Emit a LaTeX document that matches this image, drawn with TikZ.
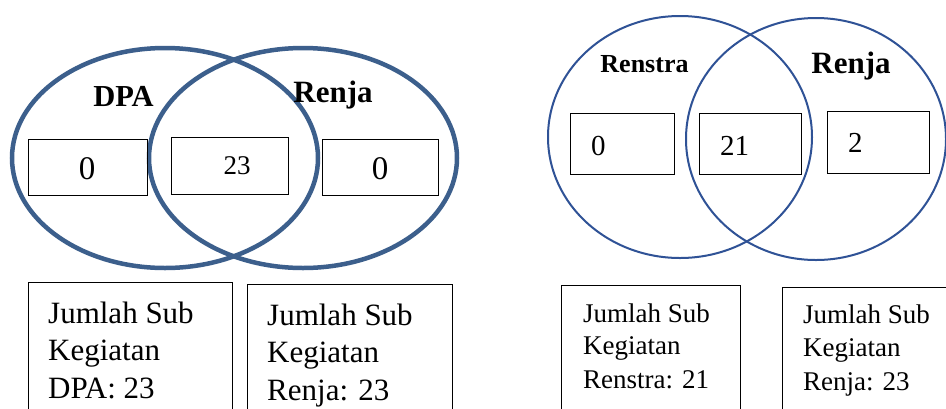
\documentclass[tikz,border=0pt]{standalone}
\usepackage{fontspec}
\setmainfont{Liberation Serif}
\definecolor{vennA}{RGB}{60,95,140}
\definecolor{vennB}{RGB}{47,82,150}
\begin{document}
\begin{tikzpicture}[x=1pt,y=-1pt,
  numbox/.style={draw=black,line width=1pt,fill=none},
  bigset/.style={draw=vennA,line width=4.5pt},
  thinset/.style={draw=vennB,line width=2pt},
  txt/.style={inner sep=0pt,anchor=base west},
  ctxt/.style={inner sep=0pt,anchor=base}]
\clip (0,0) rectangle (946,408);
\fill[white] (0,0) rectangle (946,408);
% left Venn
\draw[bigset] (165,158) ellipse [x radius=153,y radius=110];
\draw[bigset] (303,158) ellipse [x radius=154,y radius=110];
\draw[numbox] (28,139) rectangle (147,195);
\draw[numbox] (171,137) rectangle (288,194);
\draw[numbox] (322,139) rectangle (438,195);
\node[ctxt,font=\fontsize{33}{36}\selectfont] (l0) at (87,179) {0};
\node[ctxt,font=\fontsize{27}{30}\selectfont] (l23) at (237,174) {23};
\node[ctxt,font=\fontsize{33}{36}\selectfont] (r0) at (380,179) {0};
\node[ctxt,font=\fontsize{30.5}{34}\selectfont\bfseries] (dpa) at (123.5,106) {DPA};
\node[ctxt,font=\fontsize{31}{34}\selectfont\bfseries] (renjaL) at (333,102) {Renja};
% right Venn
\draw[thinset] (680,137) ellipse [x radius=132,y radius=121];
\draw[thinset] (816,139) ellipse [x radius=130,y radius=121];
\draw[numbox] (570,113) rectangle (674,174);
\draw[numbox] (699,113) rectangle (801,174);
\draw[numbox] (827,111) rectangle (929,173);
\node[txt,font=\fontsize{29}{32}\selectfont] (n0) at (591,155) {0};
\node[txt,font=\fontsize{29}{32}\selectfont] (n21) at (720,155) {21};
\node[txt,font=\fontsize{29}{32}\selectfont] (n2) at (848,152) {2};
\node[ctxt,font=\fontsize{26}{29}\selectfont\bfseries] (renstra) at (644.5,72) {Renstra};
\node[ctxt,font=\fontsize{31}{34}\selectfont\bfseries] (renjaR) at (851,73) {Renja};
% bottom boxes
\draw[numbox] (28,282) rectangle (232,420);
\draw[numbox] (247,284) rectangle (452,420);
\draw[numbox] (561,285) rectangle (740,420);
\draw[numbox] (782,287) rectangle (960,420);
\begin{scope}[font=\fontsize{31}{37}\selectfont]
\node[txt] (a1) at (48,323) {Jumlah Sub};
\node[txt] (a2) at (48,360) {Kegiatan};
\node[txt] (a3) at (48,398) {DPA: 23};
\node[txt] (b1) at (267,325) {Jumlah Sub};
\node[txt] (b2) at (267,362) {Kegiatan};
\node[txt] (b3) at (267,400) {Renja: 23};
\end{scope}
\begin{scope}[font=\fontsize{27}{33}\selectfont]
\node[txt] (c1) at (583,322) {Jumlah Sub};
\node[txt] (c2) at (583,354) {Kegiatan};
\node[txt] (c3) at (583,388) {Renstra: 21};
\node[txt] (d1) at (803,323) {Jumlah Sub};
\node[txt] (d2) at (803,356) {Kegiatan};
\node[txt] (d3) at (803,390) {Renja: 23};
\end{scope}
\end{tikzpicture}
\end{document}
